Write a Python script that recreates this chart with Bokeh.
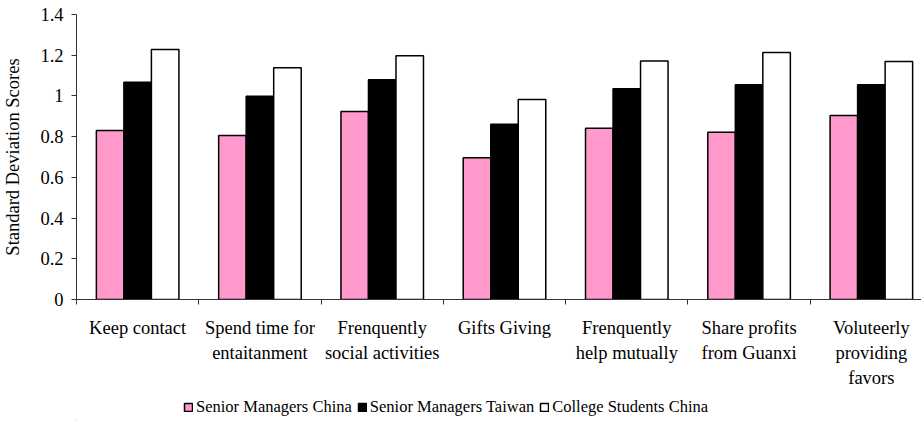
import numpy as np
from bokeh.plotting import figure
from bokeh.layouts import column
from bokeh.models import FixedTicker, Legend, LegendItem, ColumnDataSource, Range1d
from bokeh.embed import file_html
from bokeh.resources import INLINE

categories = ["Keep contact", "Spend time for\nentaitanment", "Frenquently\nsocial activities",
              "Gifts Giving", "Frenquently\nhelp mutually", "Share profits\nfrom Guanxi",
              "Voluteerly\nproviding\nfavors"]
series_names = ["Senior Managers China", "Senior Managers Taiwan", "College Students China"]
sm_china = [0.830, 0.806, 0.924, 0.696, 0.841, 0.822, 0.904]
sm_taiwan = [1.067, 0.999, 1.079, 0.861, 1.035, 1.055, 1.055]
cs_china = [1.228, 1.138, 1.197, 0.982, 1.172, 1.213, 1.169]
y_ticks = [0, 0.2, 0.4, 0.6, 0.8, 1, 1.2, 1.4]
y_tick_labels = ["0", "0.2", "0.4", "0.6", "0.8", "1", "1.2", "1.4"]

colors = ["#FF99CC", "#000000", "#FFFFFF"]
offsets = [0.275, 0.5, 0.725]
FONT = "Liberation Serif"

p = figure(frame_width=845, frame_height=285, x_range=(0, 6.91), y_range=(0, 1.4),
           output_backend="svg", toolbar_location=None,
           min_border_left=76, min_border_top=14, min_border_right=0, min_border_bottom=99)
p.outline_line_color = None
p.xgrid.visible = False
p.ygrid.visible = False

idx = np.arange(len(categories))
for vals, col, off in zip([sm_china, sm_taiwan, cs_china], colors, offsets):
    p.vbar(x=idx + off, top=vals, width=0.225, bottom=0,
           fill_color=col, line_color="black", line_width=1.5)

# x axis
centers = [float(i) + 0.5 for i in idx]
bounds = [float(i) for i in range(len(categories) + 1)]
p.xaxis.ticker = FixedTicker(ticks=centers, minor_ticks=bounds)
p.xaxis.major_label_overrides = {c: lab for c, lab in zip(centers, categories)}
p.xaxis.major_tick_out = 0
p.xaxis.major_tick_in = 0
p.xaxis.minor_tick_out = 5
p.xaxis.minor_tick_in = 0
p.xaxis.major_label_standoff = 13
p.xaxis.major_label_text_font = FONT
p.xaxis.major_label_text_font_size = "18.5px"
p.xaxis.major_label_text_color = "black"
p.xaxis.major_label_text_line_height = 1.25
p.xaxis.axis_line_color = "#333333"
p.xaxis.minor_tick_line_color = "#333333"

# y axis
p.yaxis.ticker = FixedTicker(ticks=y_ticks, minor_ticks=[])
p.yaxis.major_label_overrides = {t: lab for t, lab in zip(y_ticks, y_tick_labels)}
p.yaxis.major_tick_out = 5
p.yaxis.major_tick_in = 0
p.yaxis.major_label_standoff = 8
p.yaxis.major_label_text_font = FONT
p.yaxis.major_label_text_font_size = "18.5px"
p.yaxis.major_label_text_color = "black"
p.yaxis.axis_label = "Standard Deviation Scores"
p.yaxis.axis_label_text_font = FONT
p.yaxis.axis_label_text_font_size = "18.5px"
p.yaxis.axis_label_text_font_style = "normal"
p.yaxis.axis_label_text_color = "black"
p.yaxis.axis_label_standoff = 14
p.yaxis.axis_line_color = "#333333"
p.yaxis.major_tick_line_color = "#333333"

# legend in a small companion figure
lg = figure(width=921, height=22, output_backend="svg", toolbar_location=None,
            x_axis_type=None, y_axis_type=None,
            x_range=Range1d(0, 1), y_range=Range1d(0, 1),
            min_border_left=76, min_border_right=0, min_border_top=0, min_border_bottom=0)
lg.outline_line_color = None
lg.grid.visible = False
hidden = ColumnDataSource(data=dict(x=[-10], top=[-10]))
dummy = [lg.vbar(x="x", top="top", width=0.2, source=hidden,
                 fill_color=c, line_color="black", line_width=1.5) for c in colors]
legend = Legend(items=[LegendItem(label=n, renderers=[r]) for n, r in zip(series_names, dummy)],
                orientation="horizontal", location=(107, 3),
                border_line_color=None, background_fill_alpha=0,
                padding=0, margin=0, spacing=5, label_standoff=3,
                glyph_width=10, glyph_height=10,
                label_text_font=FONT, label_text_font_size="16.5px",
                label_text_color="black", label_height=18)
lg.add_layout(legend, "center")

layout = column(p, lg, spacing=0)
open("out.html", "w").write(file_html(layout, INLINE))
